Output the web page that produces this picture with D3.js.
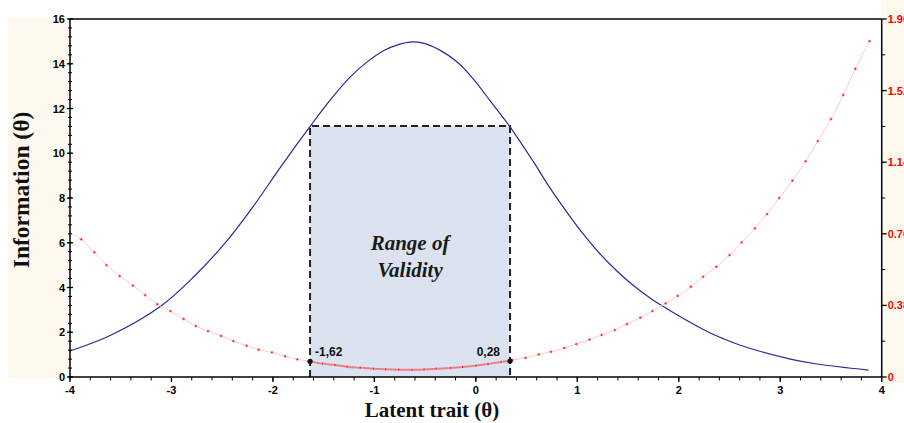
<!DOCTYPE html>
<html>
<head>
<meta charset="utf-8">
<script src="https://cdn.jsdelivr.net/npm/d3@7"></script>
<style>
  body { margin: 0; background: #fff; }
  svg { display: block; }
</style>
</head>
<body>
<svg id="chart" width="904" height="423"></svg>
<script>
// test information curve (left axis)
var infoTheta = [-4.00, -3.61, -3.11, -2.78, -2.46, -2.19, -1.93, -1.63, -1.44, -1.24, -1.08, -0.91, -0.75, -0.65,
  -0.52, -0.36, -0.19, -0.03, 0.14, 0.34, 0.57, 0.73, 0.90, 1.06, 1.22, 1.39, 1.55, 1.72, 1.88, 2.05, 2.28,
  2.44, 2.60, 2.79, 3.10, 3.36, 3.87];
var infoValues = [1.16, 1.84, 3.15, 4.48, 6.05, 7.65, 9.35, 11.22, 12.35, 13.40, 14.05, 14.58, 14.88, 14.97,
  14.92, 14.62, 14.10, 13.35, 12.35, 11.16, 9.60, 8.45, 7.35, 6.38, 5.52, 4.74, 4.10, 3.52, 3.06, 2.60, 2.03,
  1.71, 1.43, 1.16, 0.80, 0.58, 0.31];

// standard error curve (right axis)
var seTheta = [-4.00, -3.89, -3.76, -3.64, -3.51, -3.38, -3.26, -3.14, -3.01, -2.88, -2.76, -2.64, -2.51, -2.39,
  -2.26, -2.14, -2.01, -1.88, -1.76, -1.63, -1.51, -1.39, -1.27, -1.14, -1.01, -0.89, -0.76, -0.63, -0.51,
  -0.39, -0.25, -0.13, 0.00, 0.12, 0.25, 0.36, 0.49, 0.62, 0.74, 0.87, 0.99, 1.12, 1.24, 1.37, 1.49, 1.62,
  1.74, 1.87, 1.99, 2.12, 2.24, 2.37, 2.50, 2.62, 2.75, 2.87, 2.99, 3.12, 3.25, 3.37, 3.50, 3.62, 3.74, 3.88];
var seValues = [0.764, 0.731, 0.662, 0.594, 0.536, 0.485, 0.435, 0.386, 0.350, 0.308, 0.271, 0.244, 0.218, 0.191,
  0.166, 0.145, 0.131, 0.110, 0.094, 0.083, 0.071, 0.064, 0.055, 0.049, 0.044, 0.041, 0.039, 0.038, 0.040,
  0.044, 0.048, 0.053, 0.060, 0.069, 0.080, 0.090, 0.102, 0.120, 0.134, 0.154, 0.175, 0.198, 0.223, 0.249,
  0.281, 0.315, 0.350, 0.391, 0.431, 0.479, 0.532, 0.585, 0.647, 0.715, 0.789, 0.865, 0.950, 1.042, 1.145,
  1.252, 1.369, 1.497, 1.635, 1.783];

// range of validity
var validity = [-1.634, 0.337];
var validityLabels = ["-1,62", "0,28"];
var validityTop = 11.22;
var validitySE = [0.083, 0.085];

var xTicks = [-4, -3, -2, -1, 0, 1, 2, 3, 4];
var yTicks = [0, 2, 4, 6, 8, 10, 12, 14, 16];
var y2Ticks = [0, 0.38, 0.76, 1.14, 1.52, 1.90];
var y2Labels = ["0", "0.38", "0.76", "1.14", "1.52", "1.90"];

var svg = d3.select("#chart");
var plotLeft = 70, plotRight = 881.7, plotTop = 19, plotBottom = 377;

var x = d3.scaleLinear().domain([-4, 4]).range([plotLeft, plotRight]);
var y = d3.scaleLinear().domain([0, 16]).range([plotBottom, plotTop]);
var y2 = d3.scaleLinear().domain([0, 1.9]).range([plotBottom, plotTop]);

// cream side bands
svg.append("rect").attr("x", 8).attr("y", 18).attr("width", plotLeft - 10).attr("height", plotBottom - 17)
  .attr("fill", "#fdf9ee");
svg.append("rect").attr("x", plotRight).attr("y", 0).attr("width", 904 - plotRight).attr("height", plotBottom + 6)
  .attr("fill", "#fdf9ee");

// validity box
var boxX0 = x(validity[0]), boxX1 = x(validity[1]), boxY = y(validityTop);
svg.append("rect")
  .attr("x", boxX0).attr("y", boxY)
  .attr("width", boxX1 - boxX0).attr("height", plotBottom - boxY)
  .attr("fill", "#dae3ef");
svg.append("path")
  .attr("d", "M" + boxX0 + "," + plotBottom + "V" + boxY + "H" + boxX1 + "V" + plotBottom)
  .attr("fill", "none").attr("stroke", "#222").attr("stroke-width", 2)
  .attr("stroke-dasharray", "7,4");

// info curve
var infoData = infoTheta.map(function (t, i) { return { t: t, v: infoValues[i] }; });
svg.append("path")
  .datum(infoData)
  .attr("fill", "none")
  .attr("stroke", "#2a2a98")
  .attr("stroke-width", 1.2)
  .attr("d", d3.line().x(d => x(d.t)).y(d => y(d.v)).curve(d3.curveCatmullRom.alpha(0.5)));

// se curve
var seData = seTheta.map(function (t, i) { return { t: t, v: seValues[i] }; });
var seLine = d3.line().x(d => x(d.t)).y(d => y2(d.v)).curve(d3.curveMonotoneX);
svg.append("path")
  .datum(seData)
  .attr("fill", "none")
  .attr("stroke", "#ffcaca")
  .attr("stroke-width", 1)
  .attr("d", seLine);

var inside = [{ t: validity[0], v: validitySE[0] }]
  .concat(seData.filter(d => d.t > validity[0] + 0.01 && d.t < validity[1]))
  .concat([{ t: validity[1], v: validitySE[1] }]);
svg.append("path")
  .datum(inside)
  .attr("fill", "none")
  .attr("stroke", "#e8808e")
  .attr("stroke-width", 2)
  .attr("d", seLine);

var dots = svg.append("g").selectAll("g")
  .data(seData.slice(1))
  .enter().append("g")
  .attr("transform", d => "translate(" + x(d.t) + "," + y2(d.v) + ")");
dots.append("circle").attr("r", 1.6).attr("fill", "#ffb0b0");
dots.append("circle").attr("r", 0.9).attr("fill", "#f01818");

svg.append("g").selectAll("circle")
  .data(validity)
  .enter().append("circle")
  .attr("cx", d => x(d)).attr("cy", (d, i) => y2(validitySE[i]))
  .attr("r", 2.6)
  .attr("fill", "#111");

// validity labels
svg.append("text").attr("x", boxX0 + 5).attr("y", 356)
  .attr("font-family", "Liberation Sans, Arial, sans-serif").attr("font-weight", "bold")
  .attr("font-size", 12).attr("fill", "#111").text(validityLabels[0]);
svg.append("text").attr("x", boxX1 - 10).attr("y", 356).attr("text-anchor", "end")
  .attr("font-family", "Liberation Sans, Arial, sans-serif").attr("font-weight", "bold")
  .attr("font-size", 12).attr("fill", "#111").text(validityLabels[1]);

var boxText = svg.append("text")
  .attr("text-anchor", "middle")
  .attr("font-family", "Liberation Serif, Times New Roman, serif")
  .attr("font-weight", "bold").attr("font-style", "italic")
  .attr("font-size", 21).attr("fill", "#1a1a1a");
boxText.append("tspan").attr("x", (boxX0 + boxX1) / 2).attr("y", 250).text("Range of");
boxText.append("tspan").attr("x", (boxX0 + boxX1) / 2).attr("y", 277).text("Validity");

// frame
svg.append("line").attr("x1", plotLeft).attr("x2", plotRight).attr("y1", plotTop).attr("y2", plotTop)
  .attr("stroke", "#000").attr("stroke-width", 1.5);

// bottom axis
var xAxis = svg.append("g").attr("transform", "translate(0," + plotBottom + ")");
xAxis.append("line").attr("x1", plotLeft).attr("x2", plotRight).attr("stroke", "#000").attr("stroke-width", 1.5);
xAxis.selectAll(".minor").data(d3.range(-40, 41, 2).map(d => d / 10))
  .enter().append("line").attr("class", "minor")
  .attr("x1", d => x(d)).attr("x2", d => x(d)).attr("y1", 0).attr("y2", 3.5)
  .attr("stroke", "#000");
xAxis.selectAll(".major").data(xTicks)
  .enter().append("line").attr("class", "major")
  .attr("x1", d => x(d)).attr("x2", d => x(d)).attr("y1", 0).attr("y2", 5)
  .attr("stroke", "#000").attr("stroke-width", 1.3);
xAxis.selectAll("text").data(xTicks)
  .enter().append("text")
  .attr("x", d => x(d)).attr("y", 17).attr("text-anchor", "middle")
  .attr("font-family", "Liberation Sans, Arial, sans-serif").attr("font-weight", "bold")
  .attr("font-size", 11).text(d => d);

// left axis
var yAxis = svg.append("g").attr("transform", "translate(" + plotLeft + ",0)");
yAxis.append("line").attr("y1", plotTop).attr("y2", plotBottom).attr("stroke", "#000").attr("stroke-width", 1.5);
yAxis.selectAll(".minor").data(d3.range(0, 161, 4).map(d => d / 10))
  .enter().append("line").attr("class", "minor")
  .attr("x1", -2).attr("x2", 2).attr("y1", d => y(d)).attr("y2", d => y(d))
  .attr("stroke", "#000");
yAxis.selectAll(".major").data(yTicks)
  .enter().append("line").attr("class", "major")
  .attr("x1", -3).attr("x2", 3).attr("y1", d => y(d)).attr("y2", d => y(d))
  .attr("stroke", "#000").attr("stroke-width", 1.3);
yAxis.selectAll("text").data(yTicks)
  .enter().append("text")
  .attr("x", -5).attr("y", d => y(d) + 4).attr("text-anchor", "end")
  .attr("font-family", "Liberation Sans, Arial, sans-serif").attr("font-weight", "bold")
  .attr("font-size", 11).text(d => d);

// right axis
var y2Axis = svg.append("g").attr("transform", "translate(" + plotRight + ",0)");
y2Axis.append("line").attr("y1", plotTop).attr("y2", plotBottom).attr("stroke", "#000").attr("stroke-width", 1.5);
y2Axis.selectAll(".minor").data(d3.range(1, 10, 2).map(d => d * 0.19))
  .enter().append("line").attr("class", "minor")
  .attr("x1", 0).attr("x2", 3.5).attr("y1", d => y2(d)).attr("y2", d => y2(d))
  .attr("stroke", "#000");
y2Axis.selectAll(".major").data(y2Ticks)
  .enter().append("line").attr("class", "major")
  .attr("x1", 0).attr("x2", 5).attr("y1", d => y2(d)).attr("y2", d => y2(d))
  .attr("stroke", "#000").attr("stroke-width", 1.3);
y2Axis.selectAll("text").data(y2Ticks)
  .enter().append("text")
  .attr("x", 6).attr("y", d => y2(d) + 4)
  .attr("font-family", "Liberation Sans, Arial, sans-serif").attr("font-weight", "bold")
  .attr("font-size", 11).attr("fill", "#ff0000").text((d, i) => y2Labels[i]);

// axis titles
svg.append("text")
  .attr("transform", "translate(29,190) rotate(-90)")
  .attr("text-anchor", "middle")
  .attr("font-family", "Liberation Serif, Times New Roman, serif").attr("font-weight", "bold")
  .attr("font-size", 23.5).attr("fill", "#111").text("Information (θ)");
svg.append("text")
  .attr("x", 432).attr("y", 417).attr("text-anchor", "middle")
  .attr("font-family", "Liberation Serif, Times New Roman, serif").attr("font-weight", "bold")
  .attr("font-size", 21).attr("fill", "#111").text("Latent trait (θ)");
</script>
</body>
</html>
